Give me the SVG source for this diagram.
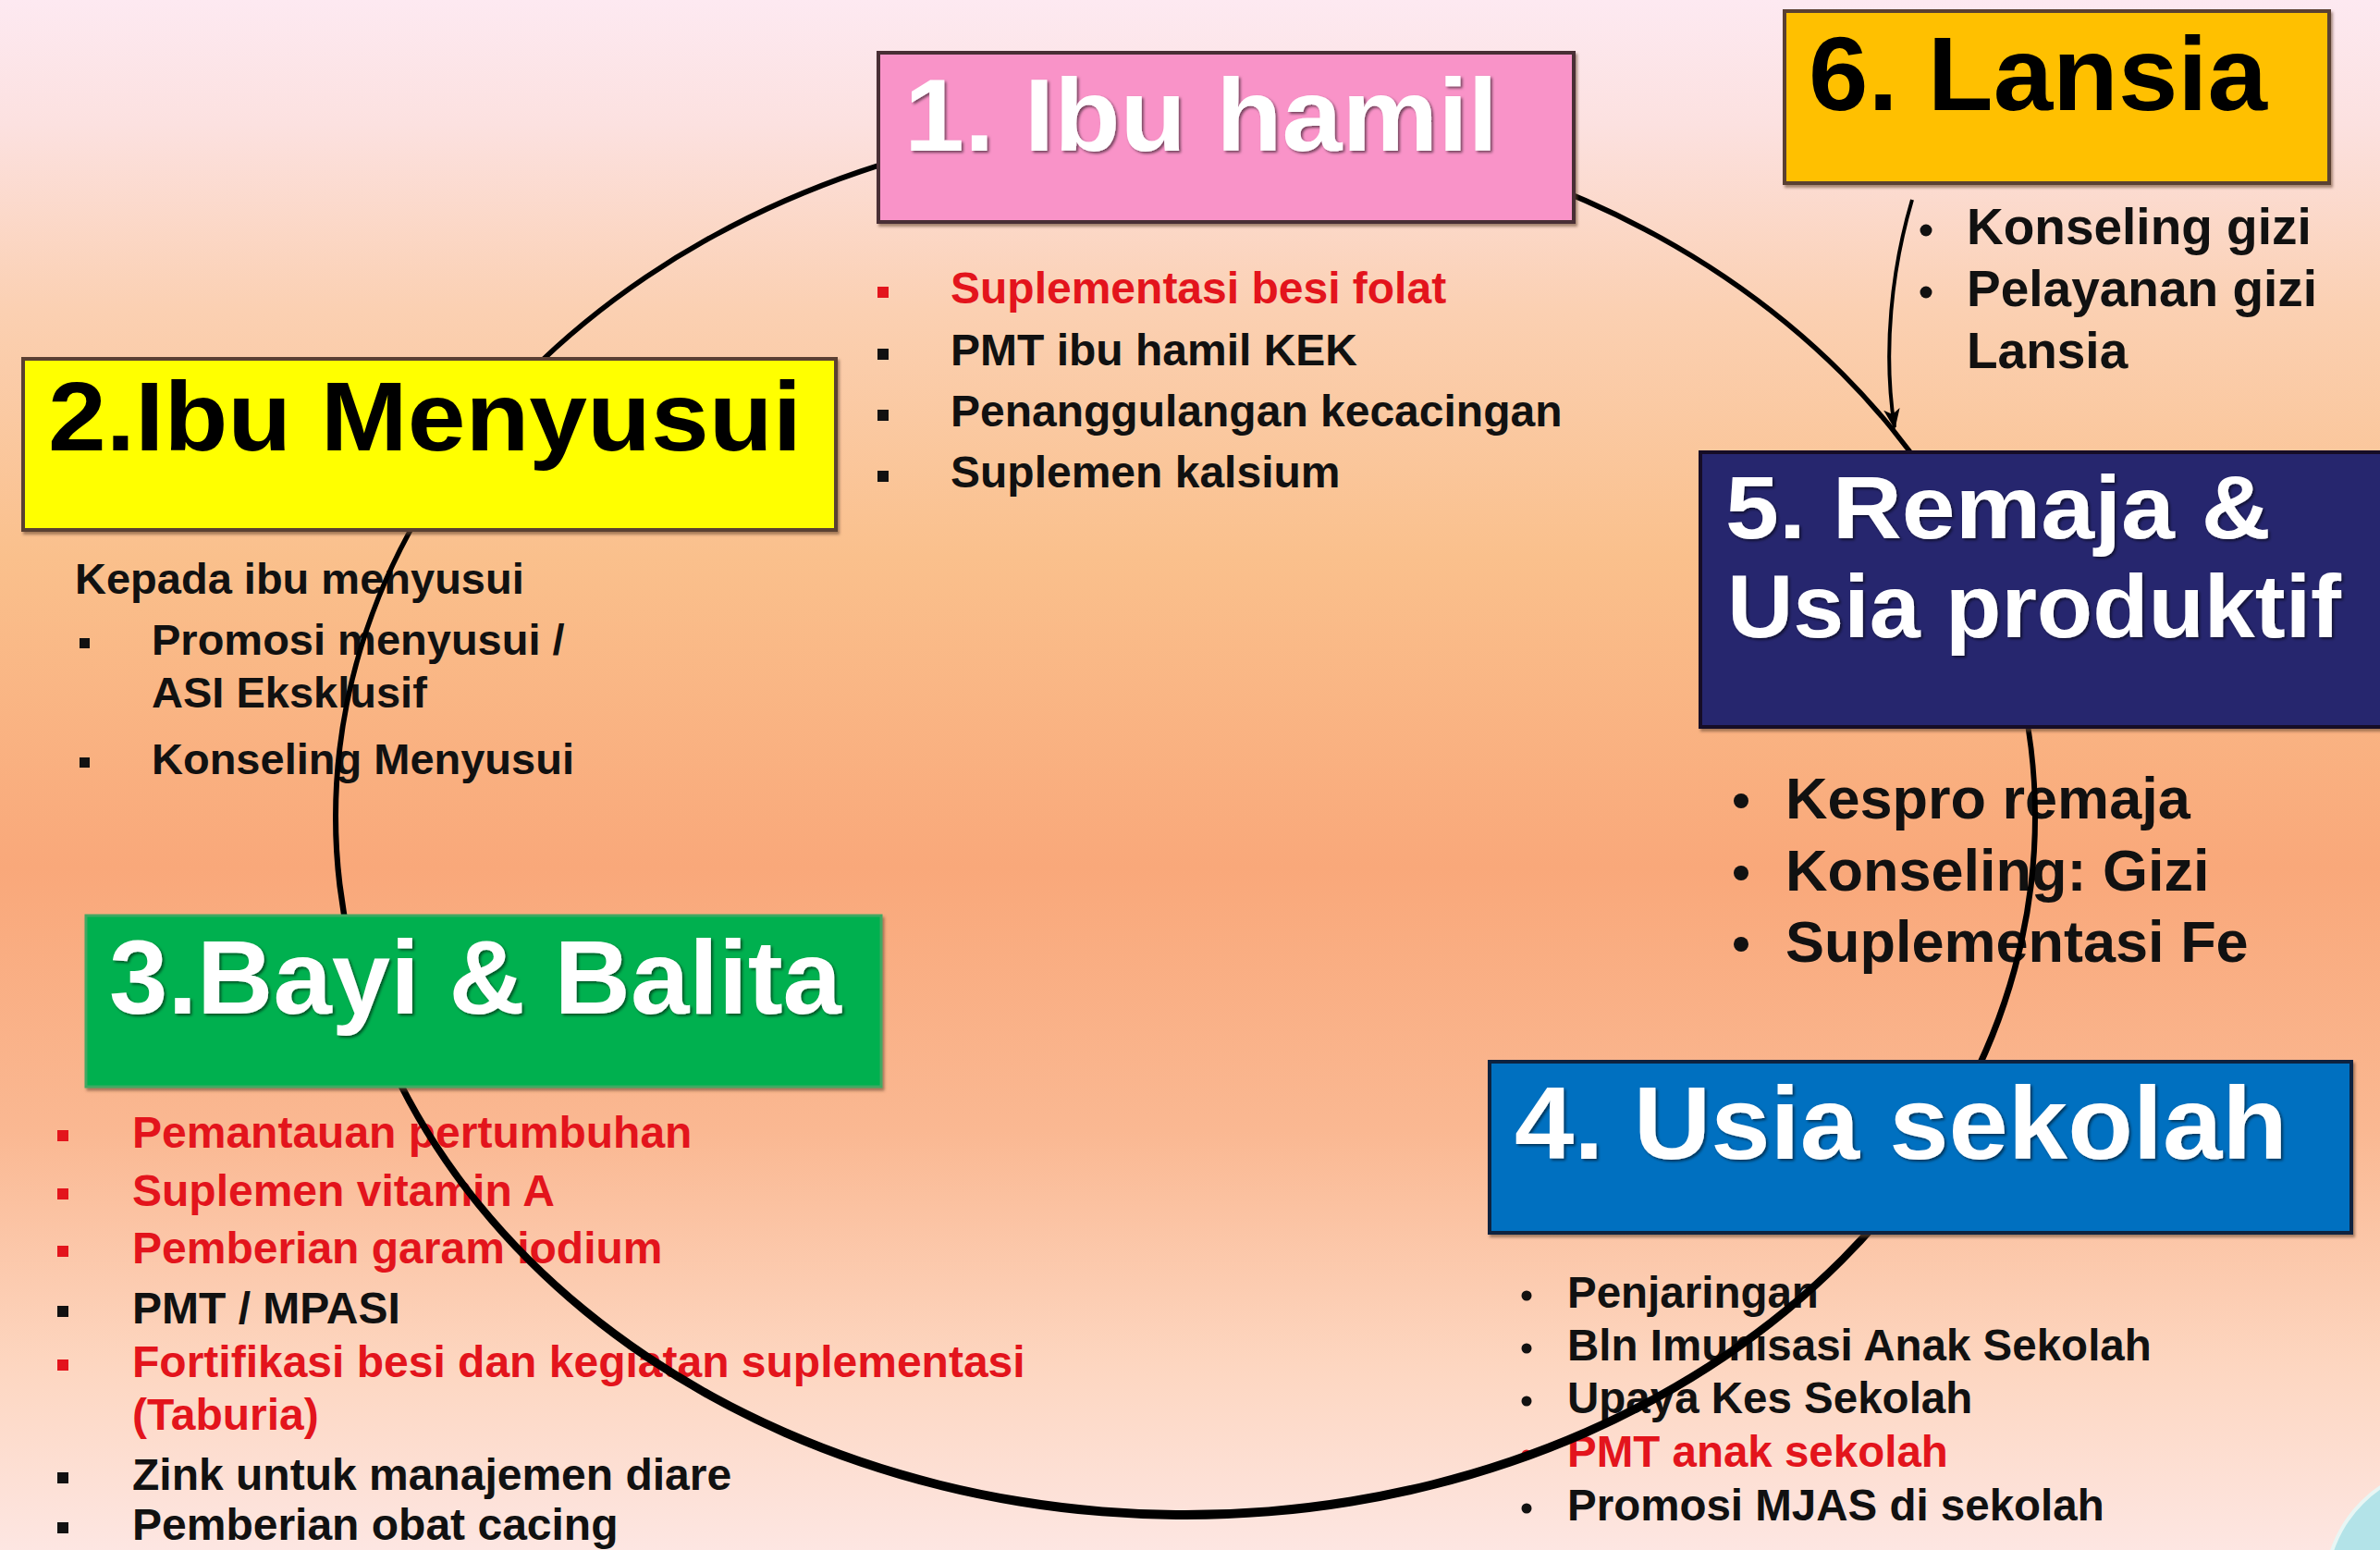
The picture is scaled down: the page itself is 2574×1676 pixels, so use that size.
<svg xmlns="http://www.w3.org/2000/svg" width="2574" height="1676" viewBox="0 0 2574 1676">
<defs>
<linearGradient id="bg" x1="0" y1="0" x2="0" y2="1">
<stop offset="0" stop-color="#fde9f1"/>
<stop offset="0.08" stop-color="#fce1e0"/>
<stop offset="0.2" stop-color="#fbd0b2"/>
<stop offset="0.36" stop-color="#fac08c"/>
<stop offset="0.56" stop-color="#f9a87a"/>
<stop offset="0.73" stop-color="#fab892"/>
<stop offset="0.88" stop-color="#fdd6c0"/>
<stop offset="1" stop-color="#fde6e2"/>
</linearGradient>
<filter id="ts" x="-5%" y="-10%" width="110%" height="130%">
<feDropShadow dx="2" dy="2" stdDeviation="1.5" flood-color="#000" flood-opacity="0.55"/>
</filter>
<filter id="bs" x="-5%" y="-5%" width="110%" height="115%">
<feDropShadow dx="2" dy="3" stdDeviation="1.5" flood-color="#6a4a30" flood-opacity="0.6"/>
</filter>
<marker id="ah" viewBox="0 0 20 20" refX="18" refY="10" markerWidth="22" markerHeight="22" markerUnits="userSpaceOnUse" orient="auto">
<path d="M0,2 L20,10 L0,18 L5,10 Z" fill="#000"/>
</marker>
<style>
.h{font-family:"Liberation Sans",Arial,sans-serif;font-weight:bold}
.w{fill:#fff;filter:url(#ts)}
.k{fill:#000}
.t{font-family:"Liberation Sans",Arial,sans-serif;font-weight:bold;fill:#111}
.r{fill:#e3141c}
.box{filter:url(#bs)}
</style>
</defs>
<rect x="0" y="0" width="2574" height="1676" fill="url(#bg)"/>
<circle cx="2650" cy="1720" r="135" fill="#b3e3e8" stroke="#e8f6f4" stroke-width="4"/>

<g id="list1" class="t" font-size="48">
<rect x="949" y="310" width="12" height="12" class="r"/>
<text x="1028" y="328" class="r">Suplementasi besi folat</text>
<rect x="949" y="377" width="12" height="12"/>
<text x="1028" y="395">PMT ibu hamil KEK</text>
<rect x="949" y="443" width="12" height="12"/>
<text x="1028" y="461">Penanggulangan kecacingan</text>
<rect x="949" y="509" width="12" height="12"/>
<text x="1028" y="527">Suplemen kalsium</text>
</g>
<g id="list2" class="t" font-size="47">
<text x="81" y="642">Kepada ibu menyusui</text>
<rect x="86" y="690" width="11" height="11"/>
<text x="164" y="708">Promosi menyusui /</text>
<text x="164" y="765">ASI Eksklusif</text>
<rect x="86" y="819" width="11" height="11"/>
<text x="164" y="837">Konseling Menyusui</text>
</g>
<g id="list3" class="t" font-size="48">
<rect x="62" y="1222" width="12" height="12" class="r"/>
<text x="143" y="1241" class="r">Pemantauan pertumbuhan</text>
<rect x="62" y="1285" width="12" height="12" class="r"/>
<text x="143" y="1304" class="r">Suplemen vitamin A</text>
<rect x="62" y="1347" width="12" height="12" class="r"/>
<text x="143" y="1366" class="r">Pemberian garam iodium</text>
<rect x="62" y="1412" width="12" height="12"/>
<text x="143" y="1431">PMT / MPASI</text>
<rect x="62" y="1470" width="12" height="12" class="r"/>
<text x="143" y="1489" class="r">Fortifikasi besi dan kegiatan suplementasi</text>
<text x="143" y="1546" class="r">(Taburia)</text>
<rect x="62" y="1592" width="12" height="12"/>
<text x="143" y="1611">Zink untuk manajemen diare</text>
<rect x="62" y="1646" width="12" height="12"/>
<text x="143" y="1665">Pemberian obat cacing</text>
</g>
<g id="list4" class="t" font-size="47.5">
<circle cx="1651" cy="1401" r="5.5"/>
<text x="1695" y="1414">Penjaringan</text>
<circle cx="1651" cy="1458" r="5.5"/>
<text x="1695" y="1471">Bln Imunisasi Anak Sekolah</text>
<circle cx="1651" cy="1515" r="5.5"/>
<text x="1695" y="1528">Upaya Kes Sekolah</text>
<circle cx="1651" cy="1573" r="5.5" class="r"/>
<text x="1695" y="1586" class="r">PMT anak sekolah</text>
<circle cx="1651" cy="1631" r="5.5"/>
<text x="1695" y="1644">Promosi MJAS di sekolah</text>
</g>
<g id="list5" class="t" font-size="63">
<circle cx="1883" cy="866" r="8"/>
<text x="1931" y="885">Kespro remaja</text>
<circle cx="1883" cy="944" r="8"/>
<text x="1931" y="963">Konseling: Gizi</text>
<circle cx="1883" cy="1021" r="8"/>
<text x="1931" y="1040">Suplementasi Fe</text>
</g>
<g id="list6" class="t" font-size="55">
<circle cx="2083" cy="249" r="6.5"/>
<text x="2127" y="264">Konseling gizi</text>
<circle cx="2083" cy="316" r="6.5"/>
<text x="2127" y="331">Pelayanan gizi</text>
<text x="2127" y="398">Lansia</text>
</g>

<g id="connectors">
<path d="M360,884 A922,759 0 1,0 2204,884 A922,759 0 1,0 360,884 Z M366,882 A916,751 0 1,0 2198,882 A916,751 0 1,0 366,882 Z" fill="#000" fill-rule="evenodd"/>
<path d="M2068,216 C2046,290 2036,380 2049,462" fill="none" stroke="#000" stroke-width="4" marker-end="url(#ah)"/>
</g>

<g id="node1">
<rect class="box" x="950" y="57" width="752" height="183" fill="#f993c8" stroke="#4a2e36" stroke-width="4"/>
<text class="h w" x="978" y="163" font-size="112" textLength="642" lengthAdjust="spacingAndGlyphs">1. Ibu hamil</text>
</g>
<g id="node2">
<rect class="box" x="25" y="388" width="879" height="185" fill="#ffff00" stroke="#5a4030" stroke-width="4"/>
<text class="h k" x="52" y="487" font-size="106" textLength="815" lengthAdjust="spacingAndGlyphs">2.Ibu Menyusui</text>
</g>
<g id="node3">
<rect class="box" x="93" y="990" width="860" height="185" fill="#00b050" stroke="#3fa862" stroke-width="3"/>
<text class="h w" x="118" y="1096" font-size="113" textLength="792" lengthAdjust="spacingAndGlyphs">3.Bayi &amp; Balita</text>
</g>
<g id="node4">
<rect class="box" x="1611" y="1148" width="932" height="185" fill="#0070c0" stroke="#102040" stroke-width="4"/>
<text class="h w" x="1638" y="1253" font-size="112" textLength="836" lengthAdjust="spacingAndGlyphs">4. Usia  sekolah</text>
</g>
<g id="node5">
<rect class="box" x="1839" y="489" width="760" height="297" fill="#26286e" stroke="#140a28" stroke-width="4"/>
<text class="h w" x="1866" y="582" font-size="96" textLength="590" lengthAdjust="spacingAndGlyphs">5. Remaja &amp;</text>
<text class="h w" x="1868" y="689" font-size="96" textLength="664" lengthAdjust="spacingAndGlyphs">Usia  produktif</text>
</g>
<g id="node6">
<rect class="box" x="1930" y="12" width="589" height="186" fill="#ffc000" stroke="#5a4030" stroke-width="4"/>
<text class="h k" x="1956" y="119" font-size="114" textLength="496" lengthAdjust="spacingAndGlyphs">6. Lansia</text>
</g>
</svg>
